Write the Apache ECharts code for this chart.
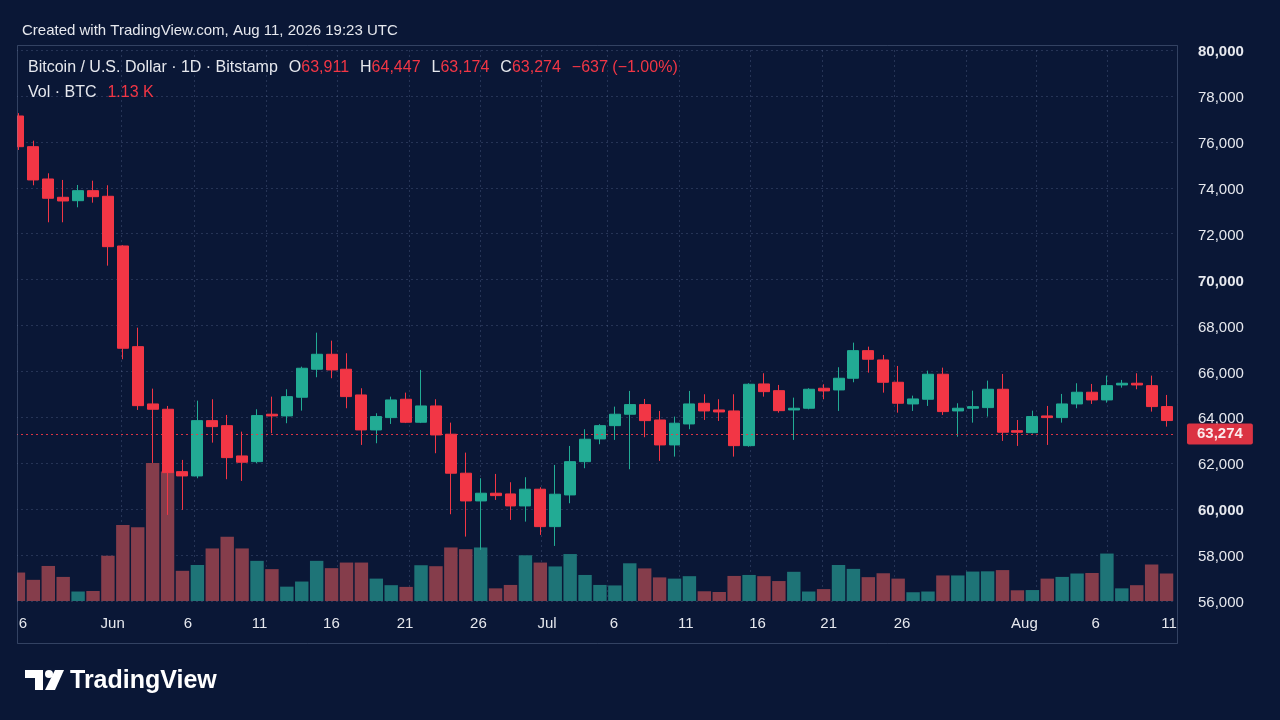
<!DOCTYPE html>
<html><head><meta charset="utf-8">
<script src="https://cdn.jsdelivr.net/npm/echarts@6/dist/echarts.min.js"></script>
<style>html,body{margin:0;padding:0;background:#0a1736;}#c{width:1280px;height:720px;}</style>
</head><body><div id="c"></div>
<script>
// ---- data ----
const dates = [
 '2026-05-26','2026-05-27','2026-05-28','2026-05-29','2026-05-30','2026-05-31',
 '2026-06-01','2026-06-02','2026-06-03','2026-06-04','2026-06-05','2026-06-06','2026-06-07','2026-06-08','2026-06-09','2026-06-10',
 '2026-06-11','2026-06-12','2026-06-13','2026-06-14','2026-06-15','2026-06-16','2026-06-17','2026-06-18','2026-06-19','2026-06-20',
 '2026-06-21','2026-06-22','2026-06-23','2026-06-24','2026-06-25','2026-06-26','2026-06-27','2026-06-28','2026-06-29','2026-06-30',
 '2026-07-01','2026-07-02','2026-07-03','2026-07-04','2026-07-05','2026-07-06','2026-07-07','2026-07-08','2026-07-09','2026-07-10',
 '2026-07-11','2026-07-12','2026-07-13','2026-07-14','2026-07-15','2026-07-16','2026-07-17','2026-07-18','2026-07-19','2026-07-20',
 '2026-07-21','2026-07-22','2026-07-23','2026-07-24','2026-07-25','2026-07-26','2026-07-27','2026-07-28','2026-07-29','2026-07-30','2026-07-31',
 '2026-08-01','2026-08-02','2026-08-03','2026-08-04','2026-08-05','2026-08-06','2026-08-07','2026-08-08','2026-08-09','2026-08-10','2026-08-11'
];
const opens = [77126,75789,74382,73585,73437,73873,73629,71464,67079,64583,
 64352,61635,61448,63856,63638,62319,62070,64135,64061,64875,
 66095,66747,66095,64975,63451,63988,64788,63786,64496,63264,
 61566,60359,60694,60664,60141,60869,59240,60620,62070,63059,
 63638,64135,64554,63885,62798,63712,64612,64322,64278,62767,
 65454,65162,64322,64396,65267,65193,65703,66905,66500,65528,
 64583,64788,65877,64278,64396,64423,65223,63420,63333,64061,
 63988,64583,65093,64758,65411,65485,65381,64468];
const highs = [77250,76050,74630,74339,74121,74308,74108,71500,67906,65250,
 64496,62145,64727,64788,64104,63377,64352,64901,65223,66208,
 67688,67340,66791,65267,64178,64901,65076,66064,64788,63769,
 62463,61347,61535,61173,61391,60956,61927,62754,63481,63700,
 64466,65150,64801,64278,64032,65150,65005,64788,65005,65485,
 65920,65411,64858,65267,65441,66182,67254,67079,66717,66238,
 64945,66034,66165,64614,65162,65599,65889,63885,64291,64496,
 65019,65485,65454,65817,65629,65920,65817,64975];
const lows = [75645,74108,72496,72496,73149,73350,70606,66530,64322,62014,
 59749,59967,61347,62898,61304,61230,62000,63307,63743,64291,
 65746,65703,64396,62798,62871,63712,63750,63750,62436,59779,
 58804,58225,60402,59531,59458,58878,58399,60258,61783,62829,
 63016,61739,63133,62101,62289,63481,63885,63842,62289,62720,
 64901,64204,63016,64350,64788,64278,65528,65947,65076,64204,
 64278,64496,64104,63159,63769,64032,62972,62754,63300,62798,
 63769,64396,64583,64641,65293,65223,64250,63595];
const closes = [75789,74339,73542,73424,73873,73611,71434,67009,64509,64352,
 61592,61448,63856,63595,62245,62044,64076,64061,64901,66138,
 66747,66064,64903,63451,64032,64758,63786,64496,63233,61566,
 60359,60694,60590,60141,60869,59240,60651,62070,63046,63638,
 64135,64554,63856,62798,63743,64583,64278,64235,62767,65441,
 65119,64291,64396,65223,65150,65703,66905,66530,65528,64614,
 64801,65877,64250,64396,64466,65223,63351,63351,64032,63988,
 64583,65093,64758,65381,65485,65411,64468,63860];
const volumesK = [1.17,0.87,1.44,0.99,0.39,0.41,1.86,3.12,3.03,5.67,
 5.32,1.24,1.48,2.16,2.64,2.16,1.65,1.31,0.59,0.80,
 1.65,1.35,1.58,1.58,0.92,0.65,0.58,1.47,1.43,2.20,
 2.13,2.20,0.52,0.66,1.88,1.58,1.42,1.93,1.07,0.66,
 0.64,1.55,1.34,0.97,0.92,1.02,0.40,0.37,1.03,1.07,
 1.02,0.82,1.20,0.39,0.49,1.48,1.32,0.98,1.14,0.92,
 0.36,0.39,1.05,1.05,1.21,1.22,1.27,0.44,0.45,0.92,
 0.99,1.13,1.15,1.95,0.52,0.65,1.50,1.13];
// time-axis tick labels (positions in bar units) and grid-line positions
const xTickText = ['6','Jun','6','11','16','21','26','Jul','6','11','16','21','26','Aug','6','11'];
const xTickPos = [0.30,6.32,11.36,16.17,20.99,25.93,30.85,35.45,39.94,44.75,49.57,54.34,59.26,67.47,72.24,77.17];
const xGridPos = [6.92,11.81,16.60,21.40,26.19,30.99,35.03,39.47,44.30,49.06,53.89,58.72,63.55,68.25,73.01];
const priceMin = 56000, priceMax = 80000, priceStep = 2000;
const lastPrice = 63274;
const lastVolK = 1.13;
const hdrKeys = ['O','H','L','C'];
const hdrValues = [63911, 64447, 63174, 63274];
const hdrChange = -637, hdrChangePct = -1.00;

// ---- styles ----
const BG = '#0a1736';
const UP = '#22ab94', DOWN = '#f23645';
const UPV = '#1e7477', DOWNV = '#853d4b';
const TXT = '#e6e8ee';
const GRIDC = 'rgba(110,130,170,0.28)';
const FONT = '"Liberation Sans", Arial, sans-serif';
const L = 11, R = 106, TOP = 50, BOT = 119;
const VTOP = 455, VMAX = 6;

const fmt = v => v.toLocaleString('en-US');
const minus = '\u2212';

const candleData = dates.map((d, i) => [opens[i], closes[i], lows[i], highs[i]]);
const volData = dates.map((d, i) => ({
  value: volumesK[i],
  itemStyle: { color: closes[i] >= opens[i] ? UPV : DOWNV }
}));

let hdr = '{w|Bitcoin / U.S. Dollar \u00b7 1D \u00b7 Bitstamp}{g| }';
hdrKeys.forEach((k, i) => { hdr += '{w|' + k + '}{r|' + fmt(hdrValues[i]) + '}{g| }'; });
hdr += '{r|' + minus + fmt(Math.abs(hdrChange)) + ' (' + minus + Math.abs(hdrChangePct).toFixed(2) + '%)}';

const chart = echarts.init(document.getElementById('c'));
chart.setOption({
  backgroundColor: BG,
  animation: false,
  grid: [
    { left: L, right: R, top: TOP, bottom: BOT },
    { left: L, right: R, top: VTOP, bottom: BOT }
  ],
  xAxis: [
    { type: 'category', gridIndex: 0, data: dates, boundaryGap: true, show: false },
    { type: 'category', gridIndex: 1, data: dates, boundaryGap: true, show: false },
    { type: 'value', gridIndex: 0, min: -0.5, max: 77.5, position: 'bottom',
      axisLine: { show: false },
      axisTick: { show: false, customValues: xGridPos },
      splitLine: { show: true, lineStyle: { color: GRIDC, type: [2, 3], width: 1 } },
      axisLabel: { customValues: xTickPos, color: TXT, fontSize: 15, fontFamily: FONT, margin: 15,
        formatter: v => { const i = xTickPos.findIndex(p => Math.abs(p - v) < 1e-6); return i >= 0 ? xTickText[i] : ''; } }
    }
  ],
  yAxis: [
    { type: 'value', gridIndex: 0, position: 'right', min: priceMin, max: priceMax, interval: priceStep,
      axisLine: { show: false }, axisTick: { show: false },
      splitLine: { show: true, lineStyle: { color: GRIDC, type: [2, 3], width: 1 } },
      axisLabel: { margin: 24, color: TXT, fontSize: 15, fontFamily: FONT, padding: [4, 0, 0, 0],
        formatter: v => (v % 10000 === 0 ? '{b|' + fmt(v) + '}' : fmt(v)),
        rich: { b: { fontWeight: 'bold', color: TXT, fontSize: 15, fontFamily: FONT } } }
    },
    { type: 'value', gridIndex: 1, min: 0, max: VMAX, show: false, splitLine: { show: false } }
  ],
  series: [
    { type: 'bar', xAxisIndex: 1, yAxisIndex: 1, data: volData, barCategoryGap: '10%', z: 1, silent: true,
      markLine: { silent: true, symbol: 'none', data: [{ yAxis: lastVolK }],
        lineStyle: { opacity: 0 },
        label: { position: 'end', distance: 13, formatter: lastVolK.toFixed(2) + ' K', color: '#fff',
          backgroundColor: DOWN, padding: [3, 8, 3, 8], fontSize: 15, fontFamily: FONT, borderRadius: 2 } }
    },
    { type: 'candlestick', xAxisIndex: 0, yAxisIndex: 0, data: candleData, barWidth: '77%', z: 3, silent: true,
      itemStyle: { color: UP, color0: DOWN, borderColor: UP, borderColor0: DOWN, borderWidth: 1 },
      markLine: { silent: true, symbol: 'none', data: [{ yAxis: lastPrice }],
        lineStyle: { color: DOWN, type: [2, 3], width: 1, opacity: 0.9 },
        label: { position: 'end', distance: 13, formatter: fmt(lastPrice), color: '#fff', fontWeight: 'bold',
          backgroundColor: DOWN, padding: [3, 10, 3, 10], fontSize: 15, fontFamily: FONT, borderRadius: 2 } }
    }
  ],
  graphic: [
    { type: 'rect', z: 100, shape: { x: 0, y: 45, width: 17, height: 598 }, style: { fill: BG } },
    { type: 'rect', z: 101, shape: { x: 17.5, y: 45.5, width: 1160, height: 598 },
      style: { fill: 'transparent', stroke: 'rgba(130,145,180,0.35)', lineWidth: 1 } },
    { type: 'text', z: 102, x: 22, y: 31,
      style: { text: 'Created with TradingView.com, Aug 11, 2026 19:23 UTC', fill: TXT,
        font: '15px ' + FONT, textVerticalAlign: 'middle' } },
    { type: 'text', z: 102, x: 28, y: 68,
      style: { text: hdr, textVerticalAlign: 'middle',
        rich: { w: { fill: TXT, fontSize: 16, fontFamily: FONT },
                r: { fill: DOWN, fontSize: 16, fontFamily: FONT },
                g: { width: 11, fontSize: 16 } } } },
    { type: 'text', z: 102, x: 28, y: 93,
      style: { text: '{w|Vol \u00b7 BTC}{g| }{r|' + lastVolK.toFixed(2) + ' K}', textVerticalAlign: 'middle',
        rich: { w: { fill: TXT, fontSize: 16, fontFamily: FONT },
                r: { fill: DOWN, fontSize: 16, fontFamily: FONT },
                g: { width: 11, fontSize: 16 } } } },
    // TradingView logo
    { type: 'polygon', z: 102, shape: { points: [[25,670],[43,670],[43,690],[35,690],[35,678],[25,678]] }, style: { fill: '#ffffff' } },
    { type: 'circle', z: 102, shape: { cx: 49, cy: 674, r: 4 }, style: { fill: '#ffffff' } },
    { type: 'polygon', z: 102, shape: { points: [[55,670],[64,670],[55,690],[45,690]] }, style: { fill: '#ffffff' } },
    { type: 'text', z: 102, x: 70, y: 681,
      style: { text: 'TradingView', fill: '#ffffff', font: 'bold 25px ' + FONT, textVerticalAlign: 'middle' } }
  ]
});
</script>
</body></html>
